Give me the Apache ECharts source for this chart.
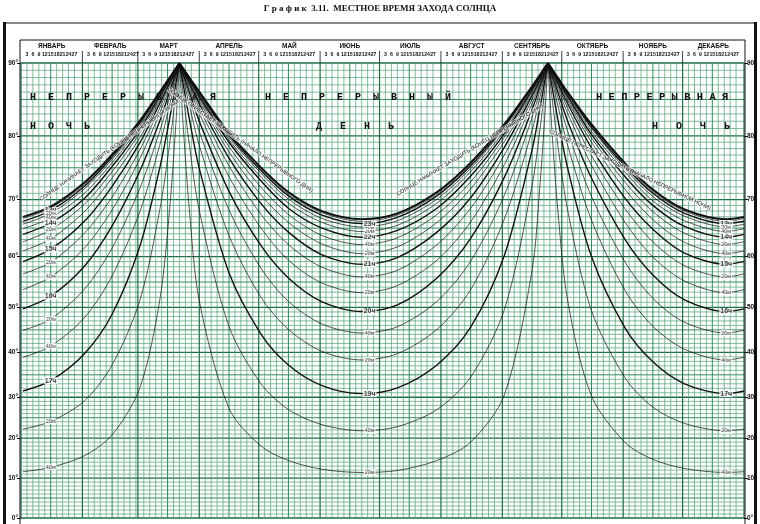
<!DOCTYPE html>
<html><head><meta charset="utf-8">
<script src="https://cdn.jsdelivr.net/npm/echarts@6/dist/echarts.min.js"></script>
<style>html,body{margin:0;padding:0;background:#fff}#c{width:760px;height:524px}</style>
</head><body><div id="c"></div>
<script>
const months = ['ЯНВАРЬ','ФЕВРАЛЬ','МАРТ','АПРЕЛЬ','МАЙ','ИЮНЬ','ИЮЛЬ','АВГУСТ','СЕНТЯБРЬ','ОКТЯБРЬ','НОЯБРЬ','ДЕКАБРЬ'];
const monthStart = [0,31,59,90,120,151,181,212,243,273,304,334,365];
const dayTicks = [3,6,9,12,15,18,21,24,27];
const latTicks = [0,10,20,30,40,50,60,70,80,90];
const latScale = [0,40,80,121,166,211,262,319,383,456];

const winterDays = [1,15,32,46,60,70,75,78,80, 266,268,271,276,288,305,319,335,356,365];
const winterTimes = ['12:00','12:20','12:40','13:00','13:20','13:40','14:00','14:20','14:40','15:00','15:20','15:40','16:00','16:20','16:40','17:00','17:20','17:40'];
const winterLat = [
 [67.0,68.8,72.7,77.1,82.1,86.0,88.0,89.2,90, 90,89.2,88.0,86.0,81.6,75.7,71.6,68.3,66.6,67.0],
 [66.9,68.7,72.6,77.1,82.1,86.0,88.0,89.2,90, 90,89.2,88.0,86.0,81.5,75.6,71.5,68.2,66.5,66.9],
 [66.7,68.5,72.4,76.9,82.0,85.9,88.0,89.2,90, 90,89.2,88.0,85.9,81.4,75.5,71.3,68.0,66.2,66.7],
 [66.2,68.1,72.1,76.7,81.8,85.9,87.9,89.2,90, 90,89.2,87.9,85.9,81.2,75.2,71.0,67.6,65.8,66.2],
 [65.7,67.6,71.7,76.3,81.6,85.7,87.9,89.1,90, 90,89.1,87.9,85.7,81.0,74.8,70.5,67.1,65.2,65.7],
 [64.9,66.8,71.0,75.8,81.3,85.6,87.8,89.1,90, 90,89.1,87.8,85.6,80.6,74.3,69.8,66.3,64.4,64.9],
 [63.9,65.9,70.2,75.2,80.9,85.4,87.7,89.1,90, 90,89.1,87.7,85.4,80.2,73.6,69.0,65.3,63.4,63.9],
 [62.6,64.7,69.2,74.4,80.4,85.1,87.6,89.0,90, 90,89.0,87.6,85.1,79.7,72.7,67.9,64.1,62.1,62.6],
 [61.0,63.1,67.9,73.4,79.7,84.8,87.4,89.0,90, 90,89.0,87.4,84.8,79.0,71.6,66.5,62.5,60.5,61.0],
 [59.0,61.3,66.2,72.1,78.9,84.4,87.2,88.9,90, 90,88.9,87.2,84.4,78.1,70.2,64.8,60.6,58.5,59.0],
 [56.6,58.9,64.1,70.4,77.8,83.8,86.9,88.8,90, 90,88.8,86.9,83.8,76.9,68.4,62.6,58.2,56.0,56.6],
 [53.5,56.0,61.5,68.2,76.4,83.1,86.5,88.6,90, 90,88.6,86.5,83.1,75.4,66.0,59.9,55.2,52.9,53.5],
 [49.7,52.2,58.1,65.4,74.5,82.0,86.0,88.4,90, 90,88.4,86.0,82.0,73.4,63.0,56.4,51.5,49.1,49.7],
 [44.9,47.4,53.6,61.5,71.8,80.6,85.3,88.1,90, 90,88.1,85.3,80.6,70.5,58.9,51.8,46.7,44.3,44.9],
 [38.9,41.4,47.7,56.2,67.9,78.5,84.2,87.7,90, 90,87.7,84.2,78.5,66.4,53.3,45.8,40.7,38.3,38.9],
 [31.4,33.7,39.7,48.5,61.8,74.9,82.3,86.9,90, 90,86.9,82.3,74.9,60.0,45.4,37.9,33.0,30.8,31.4],
 [22.2,24.1,29.1,37.2,51.4,68.1,78.6,85.4,90, 90,85.4,78.6,68.1,49.3,34.3,27.6,23.6,21.8,22.2],
 [11.6,12.7,15.6,20.8,32.1,51.3,68.2,80.9,90, 90,80.9,68.2,51.3,30.3,18.9,14.7,12.4,11.4,11.6]
];

const summerDays = [80,82,85,90,105,121,135,152,172,190,210,227,244,258,262,264,266];
const summerTimes = ['18:20','18:40','19:00','19:20','19:40','20:00','20:20','20:40','21:00','21:20','21:40','22:00','22:20','22:40','23:00','23:20','23:40','24:00'];
const summerLat = [
 [90,80.9,68.2,51.3,27.3,18.1,14.4,12.2,11.4,11.9,14.4,19.0,30.5,57.3,72.3,80.9,90],
 [90,85.4,78.6,68.1,45.8,33.1,27.0,23.3,21.8,22.8,27.0,34.5,49.5,72.2,80.9,85.4,90],
 [90,86.9,82.3,74.9,56.8,44.2,37.2,32.6,30.8,32.1,37.2,45.6,60.2,77.8,83.8,86.9,90],
 [90,87.7,84.2,78.5,63.7,52.1,45.1,40.2,38.3,39.7,45.1,53.5,66.6,80.7,85.3,87.7,90],
 [90,88.1,85.3,80.6,68.2,57.8,51.2,46.3,44.3,45.7,51.2,59.1,70.7,82.5,86.2,88.1,90],
 [90,88.4,86.0,82.0,71.3,62.0,55.8,51.1,49.1,50.5,55.8,63.2,73.5,83.6,86.8,88.4,90],
 [90,88.6,86.5,83.1,73.6,65.1,59.3,54.8,52.9,54.3,59.3,66.1,75.5,84.4,87.2,88.6,90],
 [90,88.8,86.9,83.8,75.3,67.5,62.1,57.9,56.0,57.3,62.1,68.5,77.0,85.0,87.5,88.8,90],
 [90,88.9,87.2,84.4,76.5,69.4,64.3,60.3,58.5,59.8,64.3,70.3,78.2,85.5,87.7,88.9,90],
 [90,89.0,87.4,84.8,77.5,70.8,66.0,62.2,60.5,61.7,66.0,71.7,79.1,85.8,87.9,89.0,90],
 [90,89.0,87.6,85.1,78.3,72.0,67.4,63.7,62.1,63.3,67.4,72.8,79.8,86.1,88.1,89.0,90],
 [90,89.1,87.7,85.4,79.0,73.0,68.5,65.0,63.4,64.6,68.5,73.7,80.3,86.3,88.2,89.1,90],
 [90,89.1,87.8,85.6,79.4,73.6,69.4,66.0,64.4,65.5,69.4,74.4,80.7,86.5,88.2,89.1,90],
 [90,89.1,87.9,85.7,79.8,74.2,70.1,66.7,65.2,66.3,70.1,74.9,81.1,86.6,88.3,89.1,90],
 [90,89.2,87.9,85.9,80.1,74.6,70.6,67.3,65.8,66.9,70.6,75.3,81.3,86.7,88.3,89.2,90],
 [90,89.2,88.0,85.9,80.3,74.9,70.9,67.7,66.2,67.3,70.9,75.6,81.5,86.8,88.4,89.2,90],
 [90,89.2,88.0,86.0,80.4,75.0,71.1,67.9,66.5,67.5,71.1,75.7,81.6,86.8,88.4,89.2,90],
 [90,89.2,88.0,86.1,80.4,75.1,71.2,68.0,66.6,67.6,71.2,75.8,81.6,86.8,88.4,89.2,90]
];

function toU(lat){
  for(let i=0;i<latTicks.length-1;i++){
    if(lat<=latTicks[i+1]){const f=(lat-latTicks[i])/(latTicks[i+1]-latTicks[i]);return latScale[i]+f*(latScale[i+1]-latScale[i]);}
  }
  return latScale[latScale.length-1];
}
function fromU(u){const i=latScale.indexOf(u);return i>=0?latTicks[i]:null;}
function isHour(t){return t.endsWith(':00');}
function labelFor(t){const [h,m]=t.split(':');return m==='00'?h+'ч':m+'м';}

const series=[];
series.push({
  type:'custom', silent:true, clip:false, z:1,
  data:[[0,0]],
  renderItem:function(params,api){
    const ch=[];
    const p0=api.coord([0,0]), p1=api.coord([365,456]);
    const xL=p0[0], xR=p1[0], yB=p0[1], yT=p1[1];
    for(let lat=0;lat<=90;lat++){
      const y=api.coord([0,toU(lat)])[1];
      const major=lat%10===0, mid=lat%5===0;
      ch.push({type:'line',shape:{x1:xL,y1:y,x2:xR,y2:y},style:{stroke:major?'#1d6e45':(mid?'#2f8a5c':'#4f9f76'),lineWidth:major?1.3:(mid?1.0:0.7)}});
    }
    for(let m=0;m<12;m++){
      const x=api.coord([monthStart[m],0])[0];
      ch.push({type:'line',shape:{x1:x,y1:yB,x2:x,y2:yT},style:{stroke:'#1d6e45',lineWidth:1.2}});
      dayTicks.forEach(d=>{
        const xx=api.coord([monthStart[m]+d,0])[0];
        ch.push({type:'line',shape:{x1:xx,y1:yB,x2:xx,y2:yT},style:{stroke:d===15?'#2f8a5c':'#4f9f76',lineWidth:d===15?1.0:0.7}});
        ch.push({type:'text',style:{text:String(d),x:xx,y:yT-8,align:'center',verticalAlign:'middle',fontSize:5.2,fontWeight:'bold',fontFamily:'Liberation Sans Narrow, Arial Narrow, sans-serif',fill:'#111'}});
      });
      const xm=api.coord([(monthStart[m]+monthStart[m+1])/2,0])[0];
      ch.push({type:'text',style:{text:months[m],x:xm,y:yT-17,align:'center',verticalAlign:'middle',fontSize:6.5,fontWeight:'bold',fontFamily:'Liberation Sans, Arial, sans-serif',fill:'#111'}});
      if(m>0) ch.push({type:'line',shape:{x1:x,y1:yT-12,x2:x,y2:yT},style:{stroke:'#111',lineWidth:0.8}});
    }
    ch.push({type:'line',shape:{x1:xR,y1:yB,x2:xR,y2:yT},style:{stroke:'#1d6e45',lineWidth:1.2}});
    ch.push({type:'rect',shape:{x:xL-1,y:yT-23,width:xR-xL+2,height:yB-yT+40},style:{fill:'none',stroke:'#111',lineWidth:1}});
    return {type:'group',children:ch};
  }
});

const dataFor=(days,lats,breakAt)=>{
  const out=[];
  days.forEach((d,i)=>{ if(breakAt!==undefined && i===breakAt) out.push([null,null]); out.push([d,toU(lats[i])]); });
  return out;
};

const labelPts=[];
winterTimes.forEach((t,k)=>{
  const bold = t==='12:00' || isHour(t);
  series.push({type:'line',data:dataFor(winterDays,winterLat[k],9),smooth:0.3,symbol:'none',z:3,
    lineStyle:{color:'#111',width:t==='12:00'?1.8:(bold?1.4:0.7)},silent:true});
  if(t!=='12:00' && k>=3){
    labelPts.push([winterDays[1],toU(winterLat[k][1]),labelFor(t),bold?1:0]);
    labelPts.push([winterDays[17],toU(winterLat[k][17]),labelFor(t),bold?1:0]);
  }
});
summerTimes.forEach((t,k)=>{
  const bold = t==='24:00' || isHour(t);
  series.push({type:'line',data:dataFor(summerDays,summerLat[k]),smooth:0.3,symbol:'none',z:3,
    lineStyle:{color:'#111',width:t==='24:00'?1.8:(bold?1.4:0.7)},silent:true});
  if(t!=='24:00' && k<15) labelPts.push([summerDays[8]+4,toU(summerLat[k][8]),labelFor(t),bold?1:0]);
});
series.push({type:'scatter',symbolSize:1,z:5,silent:true,itemStyle:{color:'rgba(0,0,0,0)'},
  data: labelPts.map(p=>({value:p,label:{fontSize:p[3]?7:5.5,fontWeight:p[3]?'bold':'normal'}})),
  label:{show:true,position:'inside',formatter:p=>p.value[2],color:'#111',backgroundColor:'#fff',padding:[0,1]},
  labelLayout:{hideOverlap:false}
});

const yLabelValues = latScale.slice();
const chart=echarts.init(document.getElementById('c'),null,{renderer:'canvas'});
const sp=(s,n)=>s.split('').join(' '.repeat(n));
const bigText=(txt,x,y,fs)=>({type:'text',left:x,top:y,style:{text:txt,fontSize:fs||10,fontWeight:'bold',fontFamily:'Liberation Mono, DejaVu Sans Mono, monospace',fill:'#111'},z:10});
const rotText=(txt,x,y,rot)=>({type:'text',x:x,y:y,rotation:rot,style:{text:txt,fontSize:5.5,fontFamily:'Liberation Sans, sans-serif',fill:'#111',align:'center',verticalAlign:'middle',backgroundColor:'rgba(255,255,255,0.6)'},z:10});
chart.setOption({
  animation:false,
  backgroundColor:'#fff',
  grid:{left:21,right:16,top:63,bottom:6,containLabel:false},
  xAxis:{type:'value',min:0,max:365,show:false},
  yAxis:[
    {type:'value',min:0,max:456,position:'left',splitLine:{show:false},axisLine:{show:false},
     axisTick:{show:true,customValues:yLabelValues,length:4,lineStyle:{color:'#111'}},
     axisLabel:{customValues:yLabelValues,formatter:v=>fromU(v)+'°',fontSize:6.5,fontWeight:'bold',color:'#111',margin:3}},
    {type:'value',min:0,max:456,position:'right',splitLine:{show:false},axisLine:{show:false},
     axisTick:{show:true,customValues:yLabelValues,length:4,lineStyle:{color:'#111'}},
     axisLabel:{customValues:yLabelValues,formatter:v=>fromU(v)+'°',fontSize:6.5,fontWeight:'bold',color:'#111',margin:3}}
  ],
  graphic:[
    {type:'text',left:'center',top:4,style:{text:'Г р а ф и к  3.11.  МЕСТНОЕ ВРЕМЯ ЗАХОДА СОЛНЦА',fontSize:9,fontWeight:'bold',fontFamily:'Liberation Serif, serif',fill:'#111'}},
    {type:'rect',shape:{x:3,y:22,width:3,height:502},style:{fill:'#111'}},
    {type:'rect',shape:{x:754,y:22,width:3,height:502},style:{fill:'#111'}},
    {type:'line',shape:{x1:3,y1:23,x2:757,y2:23},style:{stroke:'#111',lineWidth:1}},
    bigText(sp('НЕПРЕРЫВНАЯ',2),30,92),
    bigText(sp('НОЧЬ',2),30,121),
    bigText(sp('НЕПРЕРЫВНЫЙ',2),265,92),
    bigText(sp('ДЕНЬ',3),316,121),
    bigText(sp('НЕПРЕРЫВНАЯ',1),596,92,10.5),
    bigText(sp('НОЧЬ',3),652,121),
    rotText('СОЛНЦЕ НАЧИНАЕТ ЗАХОДИТЬ (КОНЕЦ НЕПРЕРЫВНОЙ НОЧИ)',110,150,0.62),
    rotText('СОЛНЦЕ ПЕРЕСТАЕТ ЗАХОДИТЬ (НАЧАЛО НЕПРЕРЫВНОГО ДНЯ)',240,140,-0.62),
    rotText('СОЛНЦЕ НАЧИНАЕТ ЗАХОДИТЬ (КОНЕЦ НЕПРЕРЫВНОГО ДНЯ)',470,150,0.55),
    rotText('СОЛНЦЕ ПЕРЕСТАЕТ ЗАХОДИТЬ (НАЧАЛО НЕПРЕРЫВНОЙ НОЧИ)',630,170,-0.45)
  ],
  series:series
});
</script></body></html>
